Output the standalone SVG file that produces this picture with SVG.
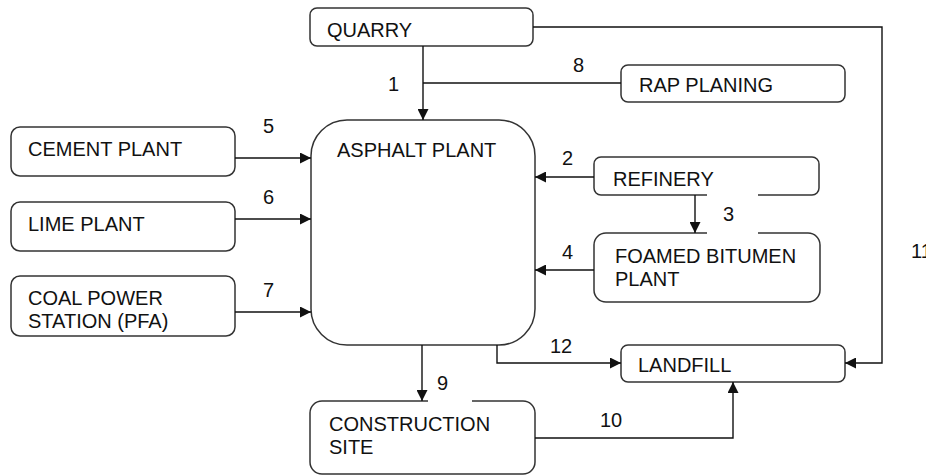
<svg xmlns="http://www.w3.org/2000/svg" width="926" height="475" viewBox="0 0 926 475">
<style>
.box{fill:#fff;stroke:#333;stroke-width:1.5}
.t{font-family:"Liberation Sans",Arial,sans-serif;font-size:20px;fill:#111}
.c{fill:none;stroke:#111;stroke-width:1.4}
.bg{fill:#fff;stroke:none}
</style>
<defs>
<marker id="ah" markerUnits="userSpaceOnUse" markerWidth="11" markerHeight="11" refX="11" refY="5.5" orient="auto">
<path d="M0,0 L11,5.5 L0,11 z" fill="#111"/>
</marker>
</defs>
<rect width="926" height="475" fill="#fff"/>
<g id="quarry"><rect class="box" x="310" y="8" width="223" height="38" rx="7"/><text class="t" x="327" y="37">QUARRY</text></g>
<g id="rap"><rect class="box" x="621" y="65" width="224" height="37" rx="7"/><text class="t" x="639" y="92">RAP PLANING</text></g>
<g id="cement"><rect class="box" x="11" y="127" width="224" height="49" rx="9"/><text class="t" x="28" y="156">CEMENT PLANT</text></g>
<g id="lime"><rect class="box" x="11" y="202" width="224" height="49" rx="9"/><text class="t" x="28" y="231">LIME PLANT</text></g>
<g id="coal"><rect class="box" x="11" y="276" width="224" height="60" rx="9"/><text class="t" x="28" y="305">COAL POWER</text><text class="t" x="28" y="328">STATION (PFA)</text></g>
<g id="asphalt"><rect class="box" x="311" y="120" width="224" height="225" rx="36"/><text class="t" x="337" y="157">ASPHALT PLANT</text></g>
<g id="refinery"><rect class="box" x="594" y="157" width="225" height="38" rx="7"/><text class="t" x="613" y="186">REFINERY</text></g>
<g id="foamed"><rect class="box" x="594" y="233" width="226" height="69" rx="12"/><text class="t" x="615" y="263">FOAMED BITUMEN</text><text class="t" x="615" y="286">PLANT</text></g>
<g id="landfill"><rect class="box" x="621" y="345" width="224" height="37" rx="7"/><text class="t" x="638" y="372">LANDFILL</text></g>
<g id="construction"><rect class="box" x="310" y="401" width="225" height="73" rx="12"/><text class="t" x="329" y="431">CONSTRUCTION</text><text class="t" x="329" y="454">SITE</text></g>
<g id="connectors">
<path class="c" d="M423,46 V120" marker-end="url(#ah)"/>
<path class="c" d="M423,83 H621"/>
<path class="c" d="M235,158 H311" marker-end="url(#ah)"/>
<path class="c" d="M235,219 H311" marker-end="url(#ah)"/>
<path class="c" d="M235,312 H311" marker-end="url(#ah)"/>
<path class="c" d="M594,177 H535" marker-end="url(#ah)"/>
<path class="c" d="M695,195 V233" marker-end="url(#ah)"/>
<path class="c" d="M594,270 H535" marker-end="url(#ah)"/>
<path class="c" d="M533,27 H882 V363 H845" marker-end="url(#ah)"/>
<path class="c" d="M422,345 V401" marker-end="url(#ah)"/>
<path class="c" d="M497,345 V363 H621" marker-end="url(#ah)"/>
<path class="c" d="M535,438 H733 V382" marker-end="url(#ah)"/>
<rect class="bg" x="707" y="194" width="51" height="40"/>
<rect class="bg" x="428" y="372" width="44" height="31"/>
<text class="t" x="388" y="91">1</text>
<text class="t" x="562" y="165">2</text>
<text class="t" x="723" y="221">3</text>
<text class="t" x="562" y="259">4</text>
<text class="t" x="263" y="133">5</text>
<text class="t" x="263" y="204">6</text>
<text class="t" x="263" y="297">7</text>
<text class="t" x="573" y="72">8</text>
<text class="t" x="437" y="390">9</text>
<text class="t" x="600" y="427">10</text>
<text class="t" x="911" y="258">11</text>
<text class="t" x="550" y="353">12</text>
</g>
</svg>
